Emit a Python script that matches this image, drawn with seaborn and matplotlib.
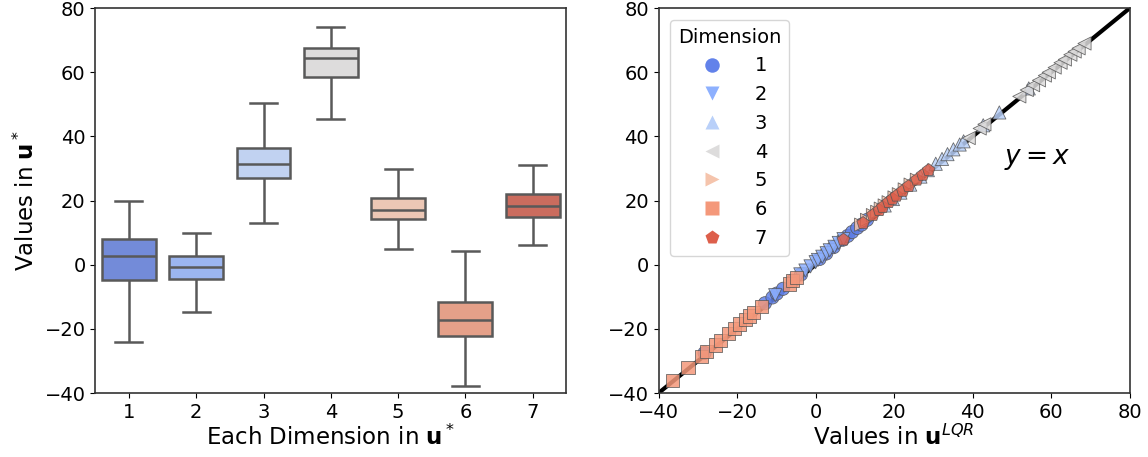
import numpy as np
import pandas as pd
import matplotlib
matplotlib.use("Agg")
import matplotlib.pyplot as plt
import seaborn as sns

plt.rcParams['font.family'] = ['DejaVu Sans']
plt.rcParams['mathtext.fontset'] = 'dejavusans'

dims = ["1", "2", "3", "4", "5", "6", "7"]
markers = ['o', 'v', '^', '<', '>', 's', 'p']

# u* values per dimension (boxplot)
box_d1 = [-24.0, -18.5, -12.3, -8.1, -4.9, -3.2, -1.0, 0.9, 2.6, 3.8, 5.1, 6.6, 7.95, 10.4, 12.2, 15.6, 19.9]
box_d2 = [-14.8, -11.2, -8.5, -6.1, -4.4, -3.5, -2.6, -1.7, -0.8, 0.1, 0.9, 1.8, 2.6, 4.2, 5.9, 7.6, 9.8]
box_d3 = [13.0, 17.5, 21.2, 24.6, 26.9, 28.1, 29.3, 30.4, 31.4, 32.5, 33.8, 35.1, 36.4, 39.2, 42.6, 46.3, 50.4]
box_d4 = [45.3, 49.6, 53.1, 56.4, 58.6, 60.2, 61.8, 63.2, 64.4, 65.1, 65.9, 66.8, 67.65, 69.2, 70.6, 72.3, 74.0]
box_d5 = [4.8, 7.9, 10.6, 12.8, 14.2, 15.0, 15.8, 16.5, 17.1, 17.9, 18.8, 19.8, 20.8, 22.9, 25.1, 27.4, 29.8]
box_d6 = [-37.9, -33.2, -29.4, -25.1, -22.2, -20.8, -19.4, -18.3, -17.2, -15.9, -14.6, -13.0, -11.5, -8.1, -4.3, 0.2, 4.3]
box_d7 = [6.2, 9.1, 11.4, 13.5, 15.0, 16.0, 16.9, 17.6, 18.3, 19.1, 19.9, 21.0, 22.1, 24.3, 26.6, 28.9, 31.2]

# scatter: u* (y) against u^LQR (x)
star_d1 = [-27.5, -12.0, -10.2, -9.0, -7.5, -5.0, -3.0, 1.8, 3.5, 5.5, 7.8, 9.0, 10.2, 11.5, 12.5, 14.0]
lqr_d1 = [-28.3, -12.9, -11.0, -9.9, -8.3, -5.8, -3.7, 1.0, 2.7, 4.6, 6.9, 8.2, 9.3, 10.6, 11.7, 13.1]
star_d2 = [-9.5, -3.0, -1.8, -0.5, 0.8, 1.5, 2.5, 3.6, 4.5, 5.6, 6.8, 8.0]
lqr_d2 = [-10.3, -3.9, -2.6, -1.3, 0.0, 0.6, 1.7, 2.8, 3.6, 4.8, 5.9, 7.1]
star_d3 = [18.5, 20.5, 22.5, 25.0, 27.5, 29.5, 31.5, 33.0, 34.5, 36.0, 37.5, 38.5, 43.5, 47.5, 55.0]
lqr_d3 = [17.6, 19.7, 21.6, 24.1, 26.7, 28.6, 30.6, 32.2, 33.6, 35.1, 36.7, 37.7, 42.7, 46.8, 54.3]
star_d4 = [39.5, 42.5, 43.8, 52.5, 54.5, 56.0, 57.5, 59.0, 60.0, 61.5, 63.0, 64.0, 65.5, 66.5, 67.5, 69.0]
lqr_d4 = [39.0, 41.8, 43.0, 51.9, 53.8, 55.4, 56.9, 58.4, 59.4, 60.9, 62.4, 63.5, 64.9, 66.0, 67.0, 68.5]
star_d5 = [12.5, 14.0, 15.5, 16.5, 17.5, 18.5, 19.5, 21.0, 22.0, 23.5, 25.0, 26.5]
lqr_d5 = [11.6, 13.1, 14.6, 15.7, 16.6, 17.6, 18.6, 20.1, 21.2, 22.7, 24.2, 25.8]
star_d6 = [-36.0, -32.0, -28.5, -27.0, -25.0, -23.5, -21.5, -20.0, -18.5, -17.0, -16.0, -15.0, -13.0, -6.0, -5.0, -4.0]
lqr_d6 = [-36.4, -32.5, -29.1, -27.7, -25.6, -24.2, -22.3, -20.7, -19.3, -17.8, -16.8, -15.8, -13.8, -6.7, -5.8, -4.8]
star_d7 = [7.8, 13.0, 15.5, 17.0, 18.0, 19.5, 20.5, 21.5, 23.0, 24.5, 26.5, 28.0, 29.5]
lqr_d7 = [7.1, 12.1, 14.6, 16.2, 17.1, 18.6, 19.6, 20.6, 22.2, 23.7, 25.8, 27.3, 28.8]

lims = [-40, 80]
ticks = [-40, -20, 0, 20, 40, 60, 80]

box_all = [box_d1, box_d2, box_d3, box_d4, box_d5, box_d6, box_d7]
star_all = [star_d1, star_d2, star_d3, star_d4, star_d5, star_d6, star_d7]
lqr_all = [lqr_d1, lqr_d2, lqr_d3, lqr_d4, lqr_d5, lqr_d6, lqr_d7]

df_box = pd.DataFrame({
    "Dimension": [d for d, v in zip(dims, box_all) for _ in v],
    "value": [x for v in box_all for x in v],
})
df_sc = pd.DataFrame({
    "Dimension": [d for d, v in zip(dims, star_all) for _ in v],
    "star": [x for v in star_all for x in v],
    "lqr": [x for v in lqr_all for x in v],
})

pal = sns.color_palette("coolwarm", 7)

fig, (ax1, ax2) = plt.subplots(1, 2, figsize=(11.48, 4.57), dpi=100)
fig.subplots_adjust(left=0.083, right=0.984, bottom=0.14, top=0.982, wspace=0.196)

sns.boxplot(data=df_box, x="Dimension", y="value", hue="Dimension", order=dims,
            hue_order=dims, palette=pal, legend=False, showfliers=False,
            width=0.8, linewidth=1.8, linecolor="#595959", ax=ax1)
ax1.set_ylim(lims)
ax1.set_yticks(ticks)
ax1.set_xlabel(r"Each Dimension in $\mathbf{u}^*$", fontsize=16.5, labelpad=2)
ax1.set_ylabel(r"Values in $\mathbf{u}^*$", fontsize=16.5, labelpad=4)
ax1.tick_params(labelsize=14)

ax2.plot(lims, lims, color="black", lw=3, zorder=1)
sns.scatterplot(data=df_sc, x="lqr", y="star", hue="Dimension", style="Dimension",
                hue_order=dims, style_order=dims, palette=pal, markers=markers,
                s=90, edgecolor="#555555", linewidth=0.6, alpha=0.85, zorder=3, ax=ax2)
ax2.set_xlim(lims)
ax2.set_ylim(lims)
ax2.set_xticks(ticks)
ax2.set_yticks(ticks)
ax2.set_xlabel(r"Values in $\mathbf{u}^{LQR}$", fontsize=16.5, labelpad=2)
ax2.set_ylabel("")
ax2.tick_params(labelsize=14)
ax2.text(48, 33, r"$y = x$", fontsize=19, va="center", ha="left")
leg = ax2.legend(title="Dimension", loc="upper left", fontsize=14, title_fontsize=14,
                 handletextpad=1.2, markerscale=1.1, borderaxespad=0.6)
for h in leg.legend_handles:
    h.set_alpha(1)
    if hasattr(h, "set_markeredgecolor"):
        h.set_markeredgecolor("none")

for ax in (ax1, ax2):
    for sp in ax.spines.values():
        sp.set_color("#333333")
        sp.set_linewidth(1.2)

fig.savefig("out.png", dpi=100)
